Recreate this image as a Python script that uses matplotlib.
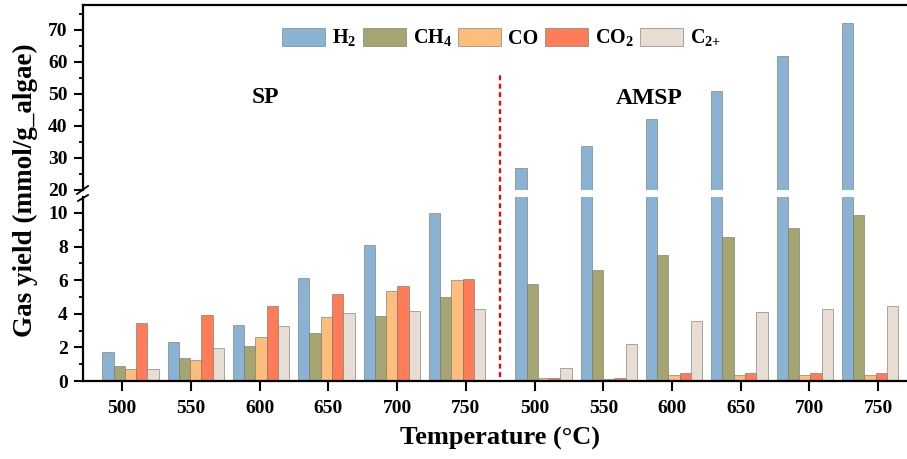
import numpy as np
import matplotlib
matplotlib.use('Agg')
import matplotlib.pyplot as plt
from matplotlib.lines import Line2D
from matplotlib.ticker import MultipleLocator

plt.rcParams['font.family'] = 'Liberation Serif'
plt.rcParams['font.weight'] = 'bold'
plt.rcParams['mathtext.fontset'] = 'custom'
plt.rcParams['mathtext.rm'] = 'Liberation Serif:bold'
plt.rcParams['mathtext.default'] = 'rm'

# data
temps = ['500', '550', '600', '650', '700', '750']
gases = ['H$_2$', 'CH$_4$', 'CO', 'CO$_2$', 'C$_{2{+}}$']
colors = ['#8ab2d3', '#a5a572', '#febe7b', '#fe7d58', '#e8ddd2']

sp_h2 = [1.75, 2.31, 3.32, 6.14, 8.07, 10.0]
sp_ch4 = [0.89, 1.39, 2.11, 2.86, 3.84, 5.01]
sp_co = [0.72, 1.27, 2.60, 3.82, 5.33, 6.02]
sp_co2 = [3.46, 3.94, 4.45, 5.19, 5.67, 6.08]
sp_c2 = [0.74, 1.99, 3.26, 4.02, 4.17, 4.29]

amsp_h2 = [26.8, 33.7, 42.3, 51.0, 61.9, 72.1]
amsp_ch4 = [5.75, 6.62, 7.50, 8.59, 9.11, 9.86]
amsp_co = [0.16, 0.14, 0.36, 0.36, 0.36, 0.36]
amsp_co2 = [0.20, 0.20, 0.48, 0.48, 0.48, 0.48]
amsp_c2 = [0.78, 2.19, 3.56, 4.08, 4.27, 4.45]

sp = [sp_h2, sp_ch4, sp_co, sp_co2, sp_c2]
amsp = [amsp_h2, amsp_ch4, amsp_co, amsp_co2, amsp_c2]

W, H = 907, 459
fig = plt.figure(figsize=(W / 100, H / 100), dpi=100)


def px(x0, y0, x1, y1):
    # pixel box -> figure fraction [left, bottom, width, height]
    return [x0 / W, 1 - y1 / H, (x1 - x0) / W, (y1 - y0) / H]


ax_top = fig.add_axes(px(83, 5, 916, 190))
ax_bot = fig.add_axes(px(83, 197, 916, 381))

# bar group centres (Origin places them slightly off the ticks)
pitch = 0.95
idx = np.arange(len(temps))
sp_x = 0.12 + pitch * idx
amsp_x = 6.13 + pitch * idx
width = 0.164

handles = []
for ax in (ax_top, ax_bot):
    for j in range(5):
        for xs, vals in ((sp_x, sp[j]), (amsp_x, amsp[j])):
            b = ax.bar(xs + (j - 2) * width, vals, width=width, color=colors[j],
                       edgecolor=(0.45, 0.45, 0.45, 0.6), linewidth=0.7)
        if ax is ax_bot:
            handles.append(b)

xlim = (-0.572, 11.55)
for ax in (ax_top, ax_bot):
    ax.set_xlim(*xlim)
    ax.spines['right'].set_visible(False)
    for s in ('left', 'bottom', 'top'):
        ax.spines[s].set_linewidth(1.6)
    ax.tick_params(axis='y', which='major', direction='out', length=6.5, width=1.5,
                   labelsize=14, pad=4.5)
    ax.tick_params(axis='y', which='minor', direction='out', length=3, width=1.3)

ax_top.set_ylim(20, 77.8)
ax_top.yaxis.set_major_locator(MultipleLocator(10))
ax_top.yaxis.set_minor_locator(MultipleLocator(5))
ax_top.spines['bottom'].set_visible(False)
ax_top.set_xticks([])

ax_bot.set_ylim(0, 10.95)
ax_bot.yaxis.set_major_locator(MultipleLocator(2))
ax_bot.yaxis.set_minor_locator(MultipleLocator(1))
ax_bot.spines['top'].set_visible(False)
ax_bot.set_xticks(np.arange(12))
ax_bot.set_xticklabels(temps + temps)
ax_bot.tick_params(axis='x', direction='out', length=7, width=1.5, labelsize=14, pad=7)

# red separator between SP and AMSP
ax_bot.plot([5.5, 5.5], [0.24, 11.45], color='red', linestyle=(0, (2.2, 1.6)),
            linewidth=1.6, clip_on=False)
ax_top.plot([5.5, 5.5], [20, 56.6], color='red', linestyle=(0, (2.2, 1.6)),
            linewidth=1.6, clip_on=False)

# axis break marks on the left spine
for (x0, y0, x1, y1) in ((77, 194, 88, 186), (78, 201, 88, 195)):
    fig.add_artist(Line2D([x0 / W, x1 / W], [1 - y0 / H, 1 - y1 / H],
                          transform=fig.transFigure, color='black', linewidth=1.3))

fig.text(265 / W, 1 - 97 / H, 'SP', ha='center', va='center', fontsize=17, fontweight='bold')
fig.text(649 / W, 1 - 98 / H, 'AMSP', ha='center', va='center', fontsize=17, fontweight='bold')

fig.legend(handles, gases, ncol=5, loc='center',
           bbox_to_anchor=(501.5 / W, 1 - 38 / H), bbox_transform=fig.transFigure,
           frameon=False, fontsize=14.5, handlelength=2.14, handleheight=1.0,
           handletextpad=0.35, columnspacing=0.3, borderpad=0.2)

fig.text(500 / W, 1 - 438 / H, 'Temperature (°C)', ha='center', va='center',
         fontsize=19, fontweight='bold')
fig.text(25 / W, 1 - 190 / H, 'Gas yield (mmol/g_algae)', ha='center', va='center',
         rotation=90, fontsize=19.5, fontweight='bold')

fig.canvas.draw()
for ax in (ax_top, ax_bot):
    for lab in ax.get_yticklabels() + ax.get_xticklabels():
        lab.set_fontweight('bold')

fig.savefig('out.png', dpi=100)
